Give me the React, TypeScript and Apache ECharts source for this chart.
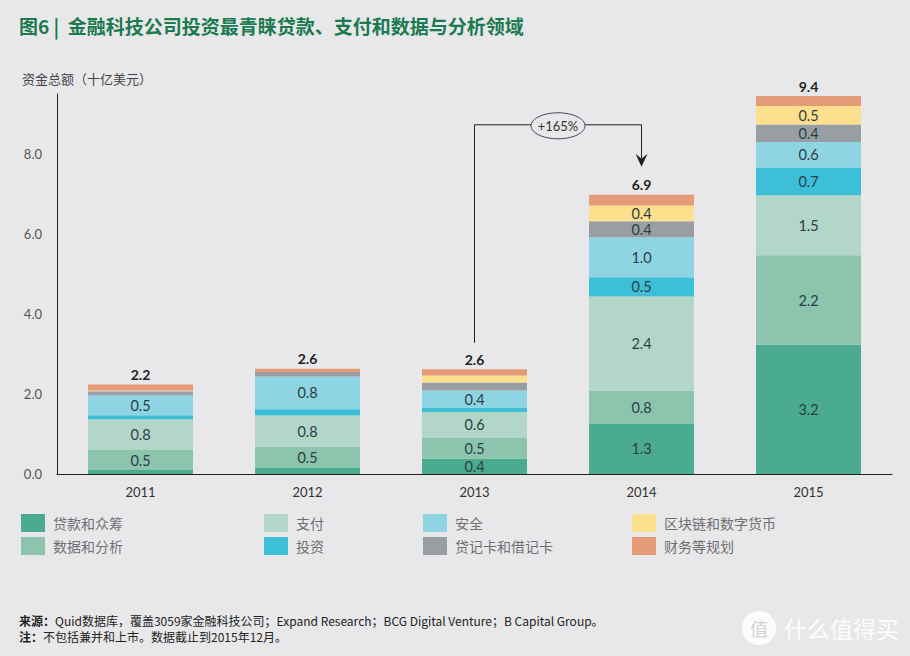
import React, { useEffect, useRef } from "react";
import * as echarts from "echarts";

const years = ["2011", "2012", "2013", "2014", "2015"];
const seriesNames = [
  "贷款和众筹",
  "数据和分析",
  "支付",
  "投资",
  "安全",
  "贷记卡和借记卡",
  "区块链和数字货币",
  "财务等规划",
];
const loans = [0.1, 0.16, 0.38, 1.26, 3.23];
const dataAnalytics = [0.5, 0.52, 0.53, 0.82, 2.24];
const payments = [0.77, 0.78, 0.64, 2.36, 1.5];
const investment = [0.1, 0.16, 0.1, 0.48, 0.69];
const security = [0.5, 0.82, 0.44, 1.0, 0.64];
const cards = [0.1, 0.11, 0.2, 0.4, 0.44];
const blockchain = [0.02, 0.0, 0.17, 0.39, 0.46];
const finance = [0.15, 0.08, 0.16, 0.27, 0.25];
const totals = [2.2, 2.6, 2.6, 6.9, 9.4];
const yTicks = [0, 2, 4, 6, 8];
const growthLabel = "+165%";

const colors = [
  "#4aab8f",
  "#8cc4ae",
  "#b2d6c8",
  "#3cbfd7",
  "#8ed4e2",
  "#999ea3",
  "#fde08e",
  "#e59a78",
];

const BG = "#e8e8ea";
const CJK = "'Noto Sans CJK SC', sans-serif";
const NUM = "Lato, 'Noto Sans CJK SC', sans-serif";

export default function App() {
  const ref = useRef<HTMLDivElement>(null);
  useEffect(() => {
    document.body.style.margin = "0";
    const chart = echarts.init(ref.current!, undefined, { renderer: "svg" });
    const values = [loans, dataAnalytics, payments, investment, security, cards, blockchain, finance];
    const series = values.map((arr, i) => {
      const isLast = i === values.length - 1;
      return {
        name: seriesNames[i],
        type: "bar",
        stack: "total",
        barWidth: 105,
        data: arr,
        itemStyle: { color: colors[i] },
        label: isLast
          ? {
              show: true,
              position: "top",
              distance: 3,
              formatter: (p: any) => totals[p.dataIndex].toFixed(1),
              fontFamily: NUM,
              fontSize: 14,
              fontWeight: "bold",
              color: "#222",
            }
          : {
              show: true,
              position: "inside",
              formatter: (p: any) => (p.value >= 0.35 ? Number(p.value).toFixed(1) : ""),
              fontFamily: NUM,
              fontSize: 14.5,
              color: "#2c3e45",
            },
      };
    });
    const legendCols = [
      { left: 21, names: [seriesNames[0], seriesNames[1]] },
      { left: 264, names: [seriesNames[2], seriesNames[3]] },
      { left: 423, names: [seriesNames[4], seriesNames[5]] },
      { left: 632, names: [seriesNames[6], seriesNames[7]] },
    ];
    chart.setOption({
      animation: false,
      backgroundColor: BG,
      grid: { left: 57, right: 18, top: 94, bottom: 182 },
      legend: legendCols.map((c) => ({
        data: c.names,
        orient: "vertical",
        left: c.left,
        top: 514,
        padding: 0,
        itemGap: 5,
        itemWidth: 24,
        itemHeight: 18,
        icon: "rect",
        selectedMode: false,
        textStyle: { fontFamily: CJK, fontSize: 14, color: "#6f6f72", padding: [0, 0, 0, 3] },
      })),
      xAxis: {
        type: "category",
        data: years,
        axisLine: { lineStyle: { color: "#222", width: 1 } },
        axisTick: { show: false },
        axisLabel: { fontFamily: NUM, fontSize: 13, color: "#333", margin: 11 },
      },
      yAxis: {
        type: "value",
        min: 0,
        max: 9.5,
        interval: 2,
        axisLine: { show: true, lineStyle: { color: "#222", width: 1 } },
        axisTick: { show: false },
        splitLine: { show: false },
        axisLabel: {
          showMaxLabel: false,
          fontFamily: NUM,
          fontSize: 13,
          color: "#555",
          margin: 15,
          formatter: (v: number) => (yTicks.includes(v) ? v.toFixed(1) : ""),
        },
      },
      series,
    });

    const x13 = chart.convertToPixel({ xAxisIndex: 0 }, "2013") as number;
    const x14 = chart.convertToPixel({ xAxisIndex: 0 }, "2014") as number;
    const yLine = chart.convertToPixel({ yAxisIndex: 0 }, 8.73) as number;
    const yStart = chart.convertToPixel({ yAxisIndex: 0 }, 3.28) as number;
    const yArrow = chart.convertToPixel({ yAxisIndex: 0 }, 7.68) as number;
    const cx = (x13 + x14) / 2;

    chart.setOption({
      graphic: [
        {
          type: "text",
          x: 19,
          y: 25,
          style: {
            text: "图6 |  金融科技公司投资最青睐贷款、支付和数据与分析领域",
            fontFamily: CJK,
            fontSize: 19,
            fontWeight: "bold",
            fill: "#1b7a50",
            verticalAlign: "middle",
          },
        },
        {
          type: "text",
          x: 22,
          y: 78,
          style: {
            text: "资金总额（十亿美元）",
            fontFamily: CJK,
            fontSize: 13,
            fill: "#444",
            verticalAlign: "middle",
          },
        },
        {
          type: "polyline",
          shape: {
            points: [
              [x13, yStart],
              [x13, yLine],
              [x14, yLine],
              [x14, yArrow - 8],
            ],
          },
          style: { stroke: "#222", lineWidth: 1, fill: null },
        },
        {
          type: "polygon",
          shape: {
            points: [
              [x14 - 6, yArrow - 13],
              [x14, yArrow],
              [x14 + 6, yArrow - 13],
              [x14, yArrow - 8],
            ],
          },
          style: { fill: "#222" },
        },
        {
          type: "ellipse",
          shape: { cx: cx, cy: yLine + 1, rx: 27, ry: 13 },
          style: { fill: BG, stroke: "#3a4a5a", lineWidth: 1 },
        },
        {
          type: "text",
          x: cx,
          y: yLine + 1,
          style: {
            text: growthLabel,
            fontFamily: NUM,
            fontSize: 13,
            fill: "#333",
            align: "center",
            verticalAlign: "middle",
          },
        },
        {
          type: "text",
          x: 19,
          y: 620,
          style: {
            text: "{b|来源：}Quid数据库，覆盖3059家金融科技公司；Expand Research；BCG Digital Venture；B Capital Group。",
            fontFamily: CJK,
            fontSize: 12,
            fill: "#222",
            verticalAlign: "middle",
            rich: { b: { fontWeight: "bold", fontFamily: CJK, fontSize: 12, fill: "#222" } },
          },
        },
        {
          type: "text",
          x: 19,
          y: 636,
          style: {
            text: "{b|注：}不包括兼并和上市。数据截止到2015年12月。",
            fontFamily: CJK,
            fontSize: 12,
            fill: "#222",
            verticalAlign: "middle",
            rich: { b: { fontWeight: "bold", fontFamily: CJK, fontSize: 12, fill: "#222" } },
          },
        },
        {
          type: "circle",
          shape: { cx: 759, cy: 628, r: 17 },
          style: { fill: "#ffffff", opacity: 0.85 },
        },
        {
          type: "text",
          x: 759,
          y: 628,
          style: {
            text: "值",
            fontFamily: CJK,
            fontSize: 18,
            fill: "#d2d2d6",
            align: "center",
            verticalAlign: "middle",
          },
        },
        {
          type: "text",
          x: 784,
          y: 628,
          style: {
            text: "什么值得买",
            fontFamily: CJK,
            fontSize: 23,
            fill: "#ffffff",
            opacity: 0.9,
            verticalAlign: "middle",
          },
        },
      ],
    });
    return () => chart.dispose();
  }, []);
  return (
    <div
      ref={ref}
      style={{ position: "absolute", left: 0, top: 0, width: 910, height: 656 }}
    />
  );
}
